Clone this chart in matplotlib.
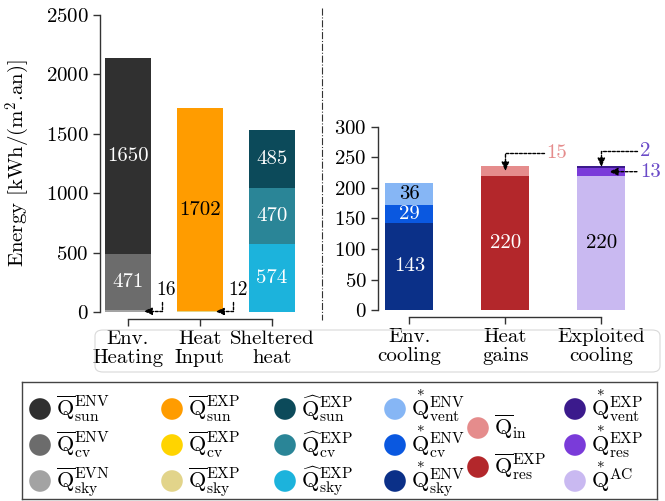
import matplotlib
matplotlib.use('Agg')
import matplotlib.pyplot as plt
from matplotlib.lines import Line2D
from matplotlib.patches import FancyBboxPatch
import numpy as np

plt.rcParams['font.family'] = 'cmr10'
plt.rcParams['mathtext.fontset'] = 'cm'
plt.rcParams['axes.unicode_minus'] = False
plt.rcParams['axes.formatter.use_mathtext'] = True

# ---------------- data ----------------
heat_categories = ['Env.\nHeating', 'Heat\nInput', 'Sheltered\nheat']
heat_sky = [16, 12, 574]
heat_cv = [471, 0, 470]
heat_sun = [1650, 1702, 485]
heat_sky_colors = ['#a3a3a3', '#e2d48a', '#1cb3dc']
heat_cv_colors = ['#6c6c6c', '#ffd400', '#2a8597']
heat_sun_colors = ['#303030', '#ff9c00', '#0c4a5a']
heat_sun_text = ['white', 'black', 'white']

cool_categories = ['Env.\ncooling', 'Heat\ngains', 'Exploited\ncooling']
cool_series = {
    'env_sky':  [143, 0, 0],
    'env_cv':   [29, 0, 0],
    'env_vent': [36, 0, 0],
    'res':      [0, 220, 0],
    'in':       [0, 15, 0],
    'ac':       [0, 0, 220],
    'exp_res':  [0, 0, 13],
    'exp_vent': [0, 0, 2],
}
cool_colors = {
    'env_sky': '#0b3088', 'env_cv': '#0a58e0', 'env_vent': '#86b6f5',
    'res': '#b3272b', 'in': '#e58c8c',
    'ac': '#c9b9f1', 'exp_res': '#7a3bd9', 'exp_vent': '#3b1a8c',
}
cool_text = {
    'env_sky': 'white', 'env_cv': 'white', 'env_vent': 'black',
    'res': 'white', 'in': 'white', 'ac': 'black',
    'exp_res': 'white', 'exp_vent': 'white',
}

FS = 15

fig = plt.figure(figsize=(6.65, 5.01), dpi=100)
axL = fig.add_axes([0.150, 0.377, 0.302, 0.593])
axR = fig.add_axes([0.568, 0.381, 0.394, 0.366])


def style(ax, xticks, labels):
    for s in ['top', 'right']:
        ax.spines[s].set_visible(False)
    ax.spines['bottom'].set_position(('outward', 5))
    ax.spines['bottom'].set_bounds(xticks[0], xticks[-1])
    for s in ['left', 'bottom']:
        ax.spines[s].set_color('#333333')
        ax.spines[s].set_linewidth(1.0)
    ax.set_xticks(xticks)
    ax.set_xticklabels(labels, fontsize=FS, linespacing=1.05)
    ax.tick_params(axis='both', length=5, width=1.0, color='#333333',
                   labelsize=FS, pad=3)


# ---------------- left: heating ----------------
xL = np.arange(len(heat_categories))
wL = 0.64
bottom = np.zeros(3)
for vals, cols in [(heat_sky, heat_sky_colors), (heat_cv, heat_cv_colors),
                   (heat_sun, heat_sun_colors)]:
    vals = np.array(vals, dtype=float)
    axL.bar(xL, vals, wL, bottom=bottom, color=cols, edgecolor='none')
    bottom += vals

bottom = np.zeros(3)
for vals, tcols in [(heat_sky, ['white'] * 3), (heat_cv, ['white'] * 3),
                    (heat_sun, heat_sun_text)]:
    for i, v in enumerate(vals):
        if v >= 100:
            axL.text(xL[i], bottom[i] + v / 2, str(v), ha='center',
                     va='center', color=tcols[i], fontsize=FS)
    bottom += np.array(vals, dtype=float)

axL.set_xlim(-0.39, 2.4)
axL.set_ylim(0, 2500)
axL.set_yticks([0, 500, 1000, 1500, 2000, 2500])
style(axL, xL, heat_categories)
axL.set_ylabel('Energy [kWh/(m$^2$.an)]', fontsize=FS, labelpad=10)

arrow_kw = dict(arrowstyle='-|>,head_length=0.35,head_width=0.15',
                linestyle=(0, (2, 1.2)), lw=1.0, color='black',
                shrinkA=0, shrinkB=0)
for i, v in [(0, heat_sky[0]), (1, heat_sky[1])]:
    axL.annotate(str(v), xy=(xL[i] + 0.22, v / 2), xytext=(xL[i] + 0.40, 110),
                 ha='left', va='bottom', fontsize=FS - 1, annotation_clip=False,
                 arrowprops=dict(relpos=(0.25, 0),
                                 connectionstyle='angle,angleA=90,angleB=0,rad=0',
                                 **arrow_kw))

# ---------------- right: cooling ----------------
xR = np.arange(len(cool_categories))
wR = 0.5
bottom = np.zeros(3)
for key, vals in cool_series.items():
    vals = np.array(vals, dtype=float)
    axR.bar(xR, vals, wR, bottom=bottom, color=cool_colors[key],
            edgecolor='none')
    for i, v in enumerate(vals):
        if v >= 25:
            axR.text(xR[i], bottom[i] + v / 2, str(int(v)), ha='center',
                     va='center', color=cool_text[key], fontsize=FS)
    bottom += vals

axR.set_xlim(-0.33, 2.4)
axR.set_ylim(0, 300)
axR.set_yticks([0, 50, 100, 150, 200, 250, 300])
style(axR, xR, cool_categories)

gain_total = cool_series['res'][1]
v_in = cool_series['in'][1]
axR.annotate(str(v_in), xy=(xR[1], gain_total + v_in / 2),
             xytext=(xR[1] + 0.43, 257), ha='left', va='center',
             fontsize=FS, color='#e58c8c', annotation_clip=False,
             arrowprops=dict(relpos=(0, 0.5),
                             connectionstyle='angle,angleA=0,angleB=90,rad=0',
                             **arrow_kw))
ac = cool_series['ac'][2]
v_res = cool_series['exp_res'][2]
v_vent = cool_series['exp_vent'][2]
axR.annotate(str(v_vent), xy=(xR[2], ac + v_res + v_vent / 2),
             xytext=(xR[2] + 0.4, 261), ha='left', va='center',
             fontsize=FS, color='#6a4ac8', annotation_clip=False,
             arrowprops=dict(relpos=(0, 0.5),
                             connectionstyle='angle,angleA=0,angleB=90,rad=0',
                             **arrow_kw))
axR.annotate(str(v_res), xy=(xR[2] + 0.08, ac + v_res / 2),
             xytext=(xR[2] + 0.4, ac + v_res / 2), ha='left', va='center',
             fontsize=FS, color='#6a4ac8', annotation_clip=False,
             arrowprops=dict(relpos=(0, 0.5), **arrow_kw))

# separator and label frame
fig.add_artist(Line2D([0.484, 0.484], [0.984, 0.361], transform=fig.transFigure,
                      linestyle='-.', lw=0.8, color='#333333'))
fig.add_artist(FancyBboxPatch((95 / 665, 1 - 372 / 501), (660 - 95) / 665, 42 / 501,
                              boxstyle='round,pad=0,rounding_size=0.012',
                              transform=fig.transFigure, fc='none',
                              ec='#d9d9d9', lw=0.8))

# ---------------- legend ----------------
LX0, LY0, LW, LH = 22, 382, 635, 117   # legend box in pixels
axLeg = fig.add_axes([LX0 / 665, 1 - (LY0 + LH) / 501, LW / 665, LH / 501])
axLeg.set_xlim(0, LW)
axLeg.set_ylim(LH, 0)
axLeg.set_xticks([])
axLeg.set_yticks([])
for s in axLeg.spines.values():
    s.set_color('#444444')
    s.set_linewidth(1.0)

leg_columns = [
    ([heat_sun_colors[0], heat_cv_colors[0], heat_sky_colors[0]],
     [r'$\overline{\mathrm{Q}}^{\mathrm{ENV}}_{\mathrm{sun}}$',
      r'$\overline{\mathrm{Q}}^{\mathrm{ENV}}_{\mathrm{cv}}$',
      r'$\overline{\mathrm{Q}}^{\mathrm{EVN}}_{\mathrm{sky}}$']),
    ([heat_sun_colors[1], heat_cv_colors[1], heat_sky_colors[1]],
     [r'$\overline{\mathrm{Q}}^{\mathrm{EXP}}_{\mathrm{sun}}$',
      r'$\overline{\mathrm{Q}}^{\mathrm{EXP}}_{\mathrm{cv}}$',
      r'$\overline{\mathrm{Q}}^{\mathrm{EXP}}_{\mathrm{sky}}$']),
    ([heat_sun_colors[2], heat_cv_colors[2], heat_sky_colors[2]],
     [r'$\widehat{\mathrm{Q}}^{\mathrm{EXP}}_{\mathrm{sun}}$',
      r'$\widehat{\mathrm{Q}}^{\mathrm{EXP}}_{\mathrm{cv}}$',
      r'$\widehat{\mathrm{Q}}^{\mathrm{EXP}}_{\mathrm{sky}}$']),
    ([cool_colors['env_vent'], cool_colors['env_cv'], cool_colors['env_sky']],
     [r'$\overset{*}{\mathrm{Q}}^{\mathrm{ENV}}_{\mathrm{vent}}$',
      r'$\overset{*}{\mathrm{Q}}^{\mathrm{ENV}}_{\mathrm{cv}}$',
      r'$\overset{*}{\mathrm{Q}}^{\mathrm{ENV}}_{\mathrm{sky}}$']),
    ([cool_colors['in'], cool_colors['res']],
     [r'$\overline{\mathrm{Q}}_{\mathrm{in}}$',
      r'$\overline{\mathrm{Q}}^{\mathrm{EXP}}_{\mathrm{res}}$']),
    ([cool_colors['exp_vent'], cool_colors['exp_res'], cool_colors['ac']],
     [r'$\overset{*}{\mathrm{Q}}^{\mathrm{EXP}}_{\mathrm{vent}}$',
      r'$\overset{*}{\mathrm{Q}}^{\mathrm{EXP}}_{\mathrm{res}}$',
      r'$\overset{*}{\mathrm{Q}}^{\mathrm{AC}}$']),
]
col_x = [18, 150, 263, 373, 456, 553]          # circle centres (box px)
rows3 = [27, 63, 99]
rows2 = [46, 85]
for cx, (cols, labs) in zip(col_x, leg_columns):
    rows = rows3 if len(cols) == 3 else rows2
    axLeg.scatter([cx] * len(rows), rows, s=22 ** 2 / 2.0, c=cols,
                  edgecolors='none')
    for ry, lab in zip(rows, labs):
        axLeg.text(cx + 16, ry + 7, lab, ha='left', va='baseline',
                   fontsize=16)

fig.savefig('out.png', dpi=100)
